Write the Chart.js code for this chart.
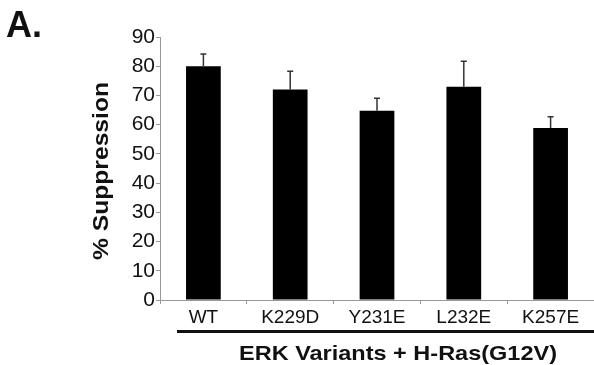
<!DOCTYPE html>
<html>
<head>
<meta charset="utf-8">
<script src="https://cdn.jsdelivr.net/npm/chart.js@4/dist/chart.umd.min.js"></script>
<style>
html,body{margin:0;padding:0;background:#fff;}
#wrap{position:relative;width:594px;height:365px;}
</style>
</head>
<body>
<div id="wrap"><canvas id="c" width="594" height="365"></canvas></div>
<script>
const categories = ["WT", "K229D", "Y231E", "L232E", "K257E"];
const suppression = [80, 72, 64.8, 73, 58.9];
const errorUp = [4.2, 6.3, 4.2, 8.7, 3.8];
const yTicks = [0, 10, 20, 30, 40, 50, 60, 70, 80, 90];
const panelLabel = "A.";
const yTitle = "% Suppression";
const xTitle = "ERK Variants + H-Ras(G12V)";

const FONT = "'Liberation Sans', Arial, sans-serif";

function fitText(ctx, text, x, y, targetW) {
  const w = ctx.measureText(text).width;
  ctx.save();
  ctx.translate(x, y);
  ctx.scale(targetW / w, 1);
  ctx.fillText(text, 0, 0);
  ctx.restore();
}

const extras = {
  id: 'extras',
  afterDatasetsDraw(chart) {
    const ctx = chart.ctx;
    const meta = chart.getDatasetMeta(0);
    const y = chart.scales.y;
    ctx.save();
    ctx.strokeStyle = '#333';
    ctx.lineWidth = 1.5;
    meta.data.forEach((bar, i) => {
      const top = y.getPixelForValue(suppression[i] + errorUp[i]);
      const base = y.getPixelForValue(suppression[i]);
      ctx.beginPath();
      ctx.moveTo(bar.x, base);
      ctx.lineTo(bar.x, top);
      ctx.moveTo(bar.x - 3, top);
      ctx.lineTo(bar.x + 3, top);
      ctx.stroke();
    });
    ctx.restore();
  },
  afterDraw(chart) {
    const ctx = chart.ctx;
    const area = chart.chartArea;
    ctx.save();
    ctx.fillStyle = '#111';
    // panel label
    ctx.font = "bold 36px " + FONT;
    ctx.textAlign = 'left';
    ctx.textBaseline = 'alphabetic';
    ctx.fillText(panelLabel, 6, 37);
    // y title
    ctx.font = "bold 22px " + FONT;
    ctx.textAlign = 'center';
    ctx.save();
    ctx.translate(108, 171);
    ctx.rotate(-Math.PI / 2);
    fitText(ctx, yTitle, 0, 0, 178);
    ctx.restore();
    // underline
    ctx.fillRect(177, area.bottom + 30, 594 - 177, 3);
    ctx.font = "bold 21px " + FONT;
    ctx.textAlign = 'center';
    fitText(ctx, xTitle, 398, 360, 318);
    ctx.restore();
  }
};

new Chart(document.getElementById('c'), {
  type: 'bar',
  data: {
    labels: categories,
    datasets: [{
      data: suppression,
      backgroundColor: '#000',
      borderWidth: 0,
      barPercentage: 0.4,
      categoryPercentage: 1.0
    }]
  },
  options: {
    responsive: false,
    animation: false,
    events: [],
    layout: { padding: { top: 37, right: 0, left: 0, bottom: 0 } },
    plugins: { legend: { display: false }, tooltip: { enabled: false }, title: { display: false } },
    scales: {
      x: {
        grid: { display: true, offset: true, drawOnChartArea: false, tickLength: 4, color: '#999', lineWidth: 1 },
        border: { display: true, color: '#999', width: 1 },
        ticks: { color: '#111', font: { family: FONT, size: 19 }, padding: 2, maxRotation: 0, autoSkip: false },
        afterFit(s) { s.height = 65; }
      },
      y: {
        min: 0, max: 90,
        afterBuildTicks(s) { s.ticks = yTicks.map(v => ({ value: v })); },
        grid: { display: true, drawOnChartArea: false, tickLength: 4, color: '#999', lineWidth: 1 },
        border: { display: true, color: '#999', width: 1 },
        ticks: { color: '#111', font: { family: FONT, size: 21 }, padding: 1 },
        afterFit(s) { s.width = 160; }
      }
    }
  },
  plugins: [extras]
});
</script>
</body>
</html>
